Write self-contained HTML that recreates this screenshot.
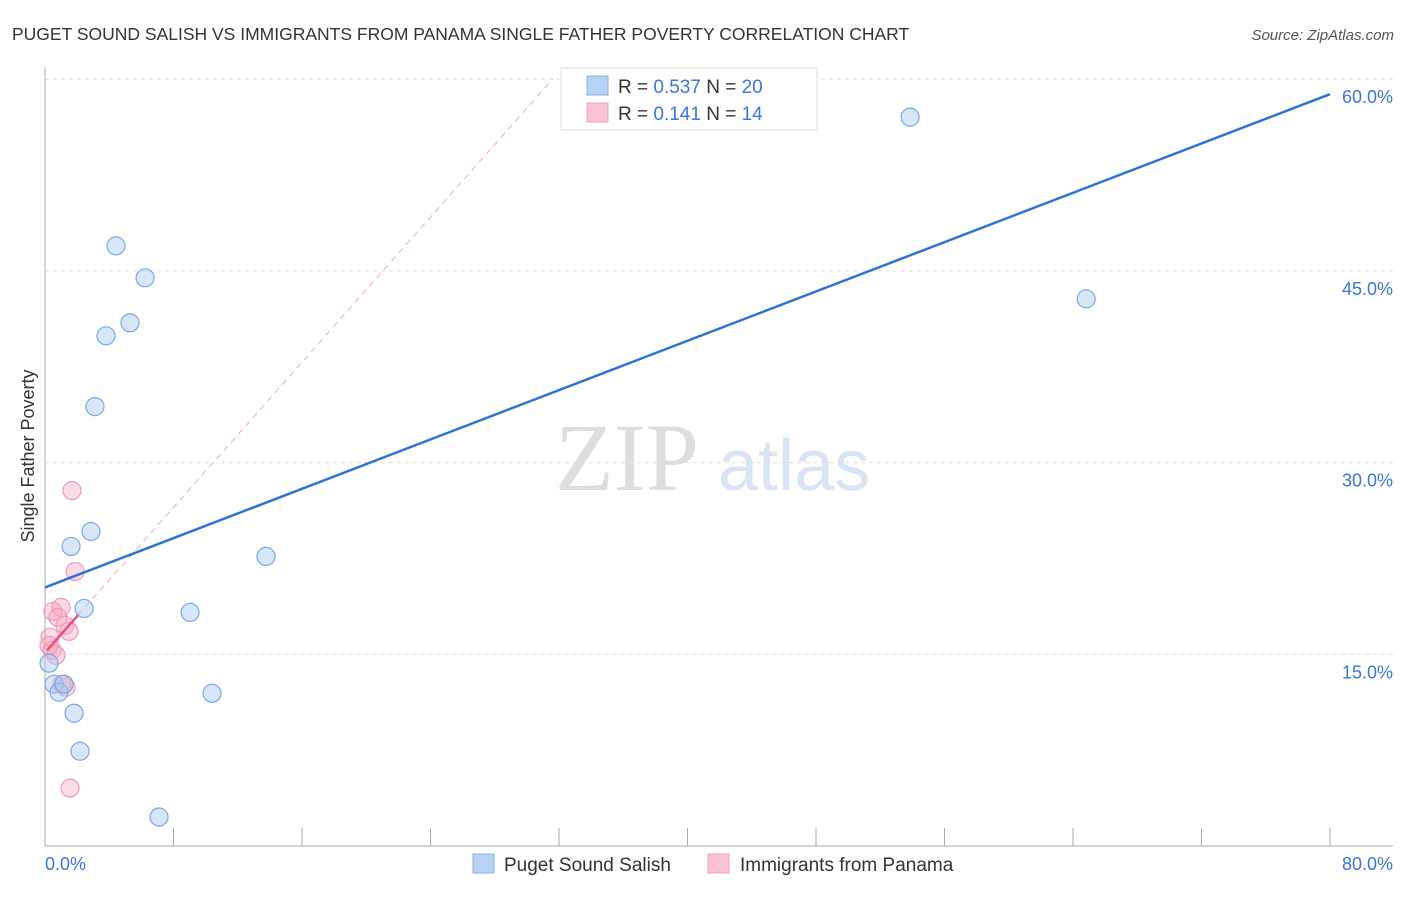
<!DOCTYPE html>
<html><head><meta charset="utf-8"><style>
body{margin:0;background:#fff;font-family:"Liberation Sans",sans-serif}
</style></head><body>
<svg id="c" width="1406" height="892" xmlns="http://www.w3.org/2000/svg" style="font-family:'Liberation Sans',sans-serif">
<text x="12" y="40" font-size="17.5" fill="#333">PUGET SOUND SALISH VS IMMIGRANTS FROM PANAMA SINGLE FATHER POVERTY CORRELATION CHART</text>
<text x="1394" y="40" font-size="15" fill="#555" font-style="italic" text-anchor="end">Source: ZipAtlas.com</text>
<text x="0" y="0" transform="translate(34,456) rotate(-90)" font-size="18" fill="#333" text-anchor="middle">Single Father Poverty</text>
<text x="555" y="490" font-size="96" fill="#ddd" font-family="Liberation Serif,serif">ZIP</text>
<text x="718" y="490" font-size="72" fill="#d8e4f4">atlas</text>
<g id="grid"></g><g id="axes"></g><g id="marks"></g>
<g>
<rect x="561" y="68" width="256" height="62" fill="#fff" stroke="#ddd"/>
<rect x="587" y="76" width="21" height="19" fill="#b8d2f4" stroke="#8ab2e8"/>
<text x="618" y="93" font-size="19" fill="#333">R = <tspan fill="#3a78d4">0.537</tspan>   N = <tspan fill="#3a78d4">20</tspan></text>
<rect x="587" y="103" width="21" height="19" fill="#f8c4d4" stroke="#f0a0b8"/>
<text x="618" y="120" font-size="19" fill="#333">R =  <tspan fill="#3a78d4">0.141</tspan>   N =  <tspan fill="#3a78d4">14</tspan></text>
</g>
<g>
<rect x="473" y="854" width="21" height="19" fill="#b8d2f4" stroke="#8ab2e8"/>
<text x="504" y="871" font-size="19" fill="#333">Puget Sound Salish</text>
<rect x="708" y="854" width="21" height="19" fill="#f8c4d4" stroke="#f0a0b8"/>
<text x="740" y="871" font-size="19" fill="#333">Immigrants from Panama</text>
</g>
</svg>
<script>
const blueX=[4.42,6.23,3.80,5.29,3.11,2.86,1.62,2.43,9.03,13.76,0.25,0.56,0.87,1.18,10.40,1.81,2.18,7.10,53.86,64.82];
const blueY=[46.96,44.46,39.92,40.94,34.38,24.61,23.44,18.59,18.28,22.66,14.30,12.66,12.03,12.66,11.95,10.39,7.42,2.27,57.03,42.81];
const pinkX=[1.68,1.87,0.50,1.00,0.81,1.25,1.49,0.31,0.44,0.68,0.25,1.31,1.06,1.56];
const pinkY=[27.81,21.48,18.36,18.67,17.89,17.27,16.80,16.33,15.31,14.92,15.70,12.42,12.66,4.53];
const yTicks=[15,30,45,60];
const yTickLabels=["15.0%","30.0%","45.0%","60.0%"];
const blueTrend=[[0,20.23],[80,58.83]];
const pinkTrend=[[0.12,15.31],[2.05,18.05]];
const pinkDash=[[2.05,18.05],[31.6,60]];
const NS="http://www.w3.org/2000/svg";
const X=v=>45+v*1285/80, Y=v=>846-v*191.7/15;
function mk(p,t,a){const e=document.createElementNS(NS,t);for(const k in a)e.setAttribute(k,a[k]);document.getElementById(p).appendChild(e);return e;}
yTicks.forEach((t,i)=>{
 const g=mk('grid','line',{x1:45,x2:1393,y1:Y(t),y2:Y(t),stroke:'#ddd','stroke-dasharray':'4,4'});
 
 
 const l=mk('grid','text',{x:1393,y:Y(t)+24,'font-size':18,fill:'#3a78d4','text-anchor':'end'});
 l.textContent=yTickLabels[i];
 
 
});
let a=mk('axes','line',{x1:45,x2:45,y1:68,y2:846,stroke:'#aaa'});


a=mk('axes','line',{x1:45,x2:1393,y1:846,y2:846,stroke:'#aaa'});


for(let v=8;v<=80;v+=8){const t=mk('axes','line',{x1:X(v),x2:X(v),y1:828,y2:846,stroke:'#aaa'});
 
 }
let t1=mk('axes','text',{x:45,y:870,'font-size':18,fill:'#3a78d4'});t1.textContent='0.0%';


t1=mk('axes','text',{x:1393,y:870,'font-size':18,fill:'#3a78d4','text-anchor':'end'});t1.textContent='80.0%';


let ln=mk('marks','line',{x1:X(pinkDash[0][0]),y1:Y(pinkDash[0][1]),x2:X(pinkDash[1][0]),y2:Y(pinkDash[1][1]),stroke:'#f0a8be','stroke-width':1,'stroke-dasharray':'6,5'});


pinkX.forEach((x,i)=>{const c=mk('marks','circle',{cx:X(x),cy:Y(pinkY[i]),r:9,fill:'rgba(245,165,190,0.4)',stroke:'#f09ab5','stroke-width':1.2});
 
 });
blueX.forEach((x,i)=>{const c=mk('marks','circle',{cx:X(x),cy:Y(blueY[i]),r:9,fill:'rgba(170,200,240,0.45)',stroke:'#7aa8e6','stroke-width':1.2});
 
 });
ln=mk('marks','line',{x1:X(blueTrend[0][0]),y1:Y(blueTrend[0][1]),x2:X(blueTrend[1][0]),y2:Y(blueTrend[1][1]),stroke:'#2f72d6','stroke-width':2.5});


ln=mk('marks','line',{x1:X(pinkTrend[0][0]),y1:Y(pinkTrend[0][1]),x2:X(pinkTrend[1][0]),y2:Y(pinkTrend[1][1]),stroke:'#e8507e','stroke-width':2.5});


</script>
</body></html>
